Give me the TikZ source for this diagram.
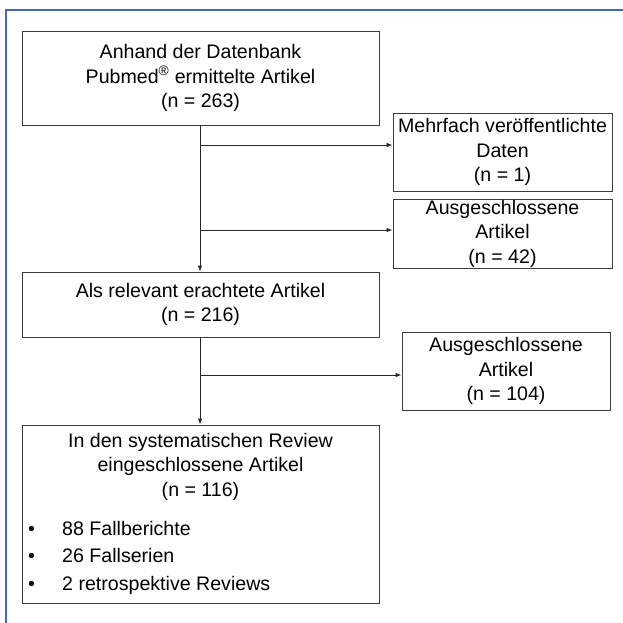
\documentclass[tikz,border=0pt]{standalone}
\usepackage{fontspec}
\setmainfont{Liberation Sans}
\usetikzlibrary{arrows.meta}
\definecolor{frameblue}{RGB}{72,102,178}
\definecolor{boxgray}{RGB}{60,60,60}
\tikzset{
  box/.style={draw=boxgray, line width=0.9pt, rectangle, inner sep=0pt, align=center,
    font=\fontsize{19.6}{24.5}\selectfont},
  conn/.style={draw=black!85, line width=0.9pt},
  arr/.style={conn, -{Latex[length=6pt,width=4.5pt]}},
  txt/.style={inner sep=0pt, align=center, font=\fontsize{19.6}{24.5}\selectfont}
}
\begin{document}
\begin{tikzpicture}[x=1pt,y=-1pt]
\useasboundingbox (0,0) rectangle (623,622);
\draw[frameblue, line width=1.4pt] (6,623) -- (6,10) -- (624,10);

\node[box, minimum width=357pt, minimum height=94pt] (b1) at (200.5,78)
  {Anhand der Datenbank\\Pubmed\textsuperscript{®} ermittelte Artikel\\(n = 263)};
\node[box, minimum width=219pt, minimum height=78pt] (m1) at (502.5,152)
  {Mehrfach veröffentlichte\\Daten\\(n = 1)};
\node[box, minimum width=219pt, minimum height=69pt] (a42) at (502.5,233.5)
  {Ausgeschlossene\\Artikel\\(n = 42)};
\node[box, minimum width=357pt, minimum height=65pt] (b2) at (200.5,304.5)
  {Als relevant erachtete Artikel\\(n = 216)};
\node[box, minimum width=208pt, minimum height=78pt] (a104) at (506,371)
  {Ausgeschlossene\\Artikel\\(n = 104)};
\node[box, minimum width=357pt, minimum height=178pt] (b3) at (200.5,514) {};
\node[txt] (b3t) at (200.5,466.5)
  {In den systematischen Review\\eingeschlossene Artikel\\(n = 116)};
\node[txt, anchor=north west, align=left] (b3l) at (28,518)
  {\begin{tabular}{@{}p{34pt}@{}l@{}}
   • & 88 Fallberichte\\[3pt]
   • & 26 Fallserien\\[3pt]
   • & 2 retrospektive Reviews
   \end{tabular}};

\coordinate (j1) at (200,145);
\coordinate (j2) at (200,230);
\coordinate (j3) at (200,375);
\draw[arr] (b1.south -| j1) -- (b2.north -| j1);
\draw[arr] (j1) -- (j1 -| m1.west);
\draw[arr] (j2) -- (j2 -| a42.west);
\draw[arr] (b2.south -| j3) -- (b3.north -| j3);
\draw[arr] (j3) -- (j3 -| a104.west);
\end{tikzpicture}
\end{document}
